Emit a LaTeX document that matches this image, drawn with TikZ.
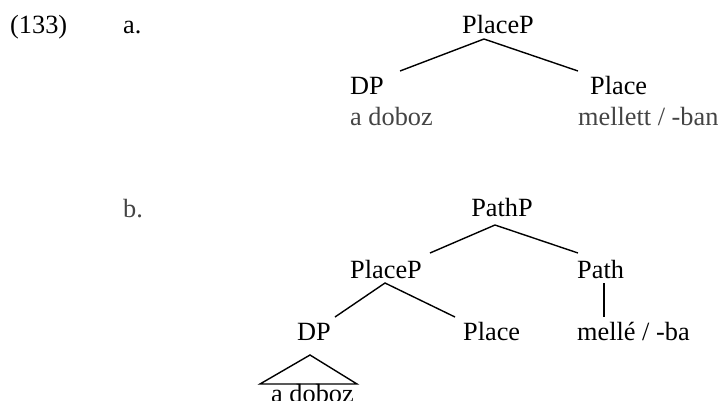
\documentclass[tikz,border=0pt]{standalone}
\usepackage{fontspec}
\setmainfont{Liberation Serif}
\definecolor{leafgray}{HTML}{444444}
\begin{document}
\begin{tikzpicture}[x=1pt,y=1pt,
  lab/.style={inner sep=0pt,anchor=base,font=\fontsize{26.3}{30}\selectfont},
  labl/.style={lab,anchor=base west},
  grey/.style={text=leafgray},
  branch/.style={draw=black,line width=1.4pt}]
\useasboundingbox (0,0) rectangle (721,-400);
% (a)
\node[labl] (num) at (10,-33) {(133)};
\node[labl] (la) at (123,-33) {a.};
\node[lab] (pa) at (498,-33) {PlaceP};
\node[labl] (dpa) at (350,-94) {DP};
\node[labl] (plca) at (590,-94) {Place};
\node[labl,grey] (leafa1) at (350,-125) {a doboz};
\node[labl,grey] (leafa2) at (578,-125) {mellett / -ban};
\coordinate (pa-b) at (484,-39);
\coordinate (dpa-t) at (400,-71);
\coordinate (plca-t) at (578,-71);
\draw[branch] (dpa-t) -- (pa-b) -- (plca-t);
% (b)
\node[labl,grey] (lb) at (123,-217) {b.};
\node[lab] (pathp) at (502,-216) {PathP};
\node[lab] (pb) at (386,-278) {PlaceP};
\node[labl] (path) at (577,-278) {Path};
\node[labl] (dpb) at (297,-340) {DP};
\node[labl] (plcb) at (463,-340) {Place};
\node[labl] (melle) at (577,-340) {mellé / -ba};
\node[labl] (leafb) at (271,-402) {a doboz};
\coordinate (pathp-b) at (495,-225);
\coordinate (pb-t) at (430,-253);
\coordinate (path-t) at (578,-253);
\draw[branch] (pb-t) -- (pathp-b) -- (path-t);
\coordinate (pb-b) at (385,-283);
\coordinate (dpb-t) at (335,-317);
\coordinate (plcb-t) at (455,-317);
\draw[branch] (dpb-t) -- (pb-b) -- (plcb-t);
\coordinate (path-b) at (604,-283);
\coordinate (melle-t) at (604,-317);
\draw[branch] (path-b) -- (melle-t);
\coordinate (tri-top) at (310,-355);
\coordinate (tri-l) at (260,-384);
\coordinate (tri-r) at (357,-384);
\draw[branch] (tri-l) -- (tri-top) -- (tri-r) -- cycle;
\end{tikzpicture}
\end{document}
